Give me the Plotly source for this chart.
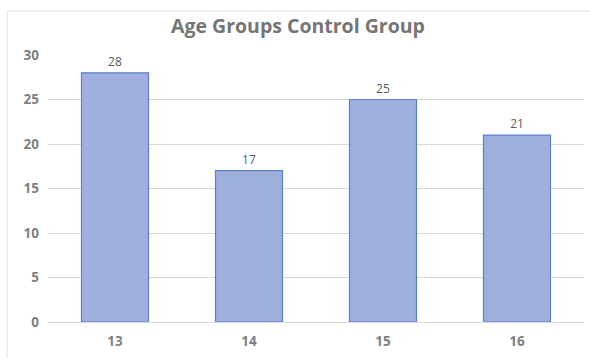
import plotly.graph_objects as go

categories = ["13", "14", "15", "16"]
values = [28, 17, 25, 21]
y_ticks = [0, 5, 10, 15, 20, 25, 30]

fig = go.Figure()
fig.add_trace(go.Bar(
    x=categories, y=values,
    marker=dict(color="#A0B0DC", line=dict(color="#5A7FD0", width=1.2)),
    text=[str(v) for v in values], textposition="outside",
    textfont=dict(family="Open Sans", size=12, color="#595959"),
    cliponaxis=False,
))

fig.update_layout(
    width=590, height=358,
    margin=dict(l=48, r=6, t=55, b=36),
    paper_bgcolor="white", plot_bgcolor="white",
    bargap=0.5,
    showlegend=False,
    title=dict(text="<b>Age Groups Control Group</b>", x=0.505, xanchor="center",
               y=0.928, yanchor="middle",
               font=dict(family="Open Sans", size=19.5, color="#757575")),
    xaxis=dict(type="category", showgrid=False, showline=False, ticks="",
               ticklabelstandoff=9,
               tickfont=dict(family="Open Sans", size=13.5, color="#7F7F7F", weight="bold")),
    yaxis=dict(range=[0, 30], tickvals=y_ticks, showgrid=True, gridcolor="#D9D9D9",
               gridwidth=1, zeroline=True, zerolinecolor="#D9D9D9", zerolinewidth=1,
               showline=False, ticks="", ticklabelstandoff=8,
               tickfont=dict(family="Open Sans", size=13.5, color="#7F7F7F", weight="bold")),
    shapes=[
        dict(type="line", xref="paper", yref="paper", x0=-0.0765, x1=1.02, y0=1.1648, y1=1.1648,
             line=dict(color="#E3E3E3", width=1)),
        dict(type="line", xref="paper", yref="paper", x0=-0.0765, x1=-0.0765, y0=1.1648, y1=-0.2,
             line=dict(color="#E3E3E3", width=1)),
    ],
)

fig.write_html("out.html")
